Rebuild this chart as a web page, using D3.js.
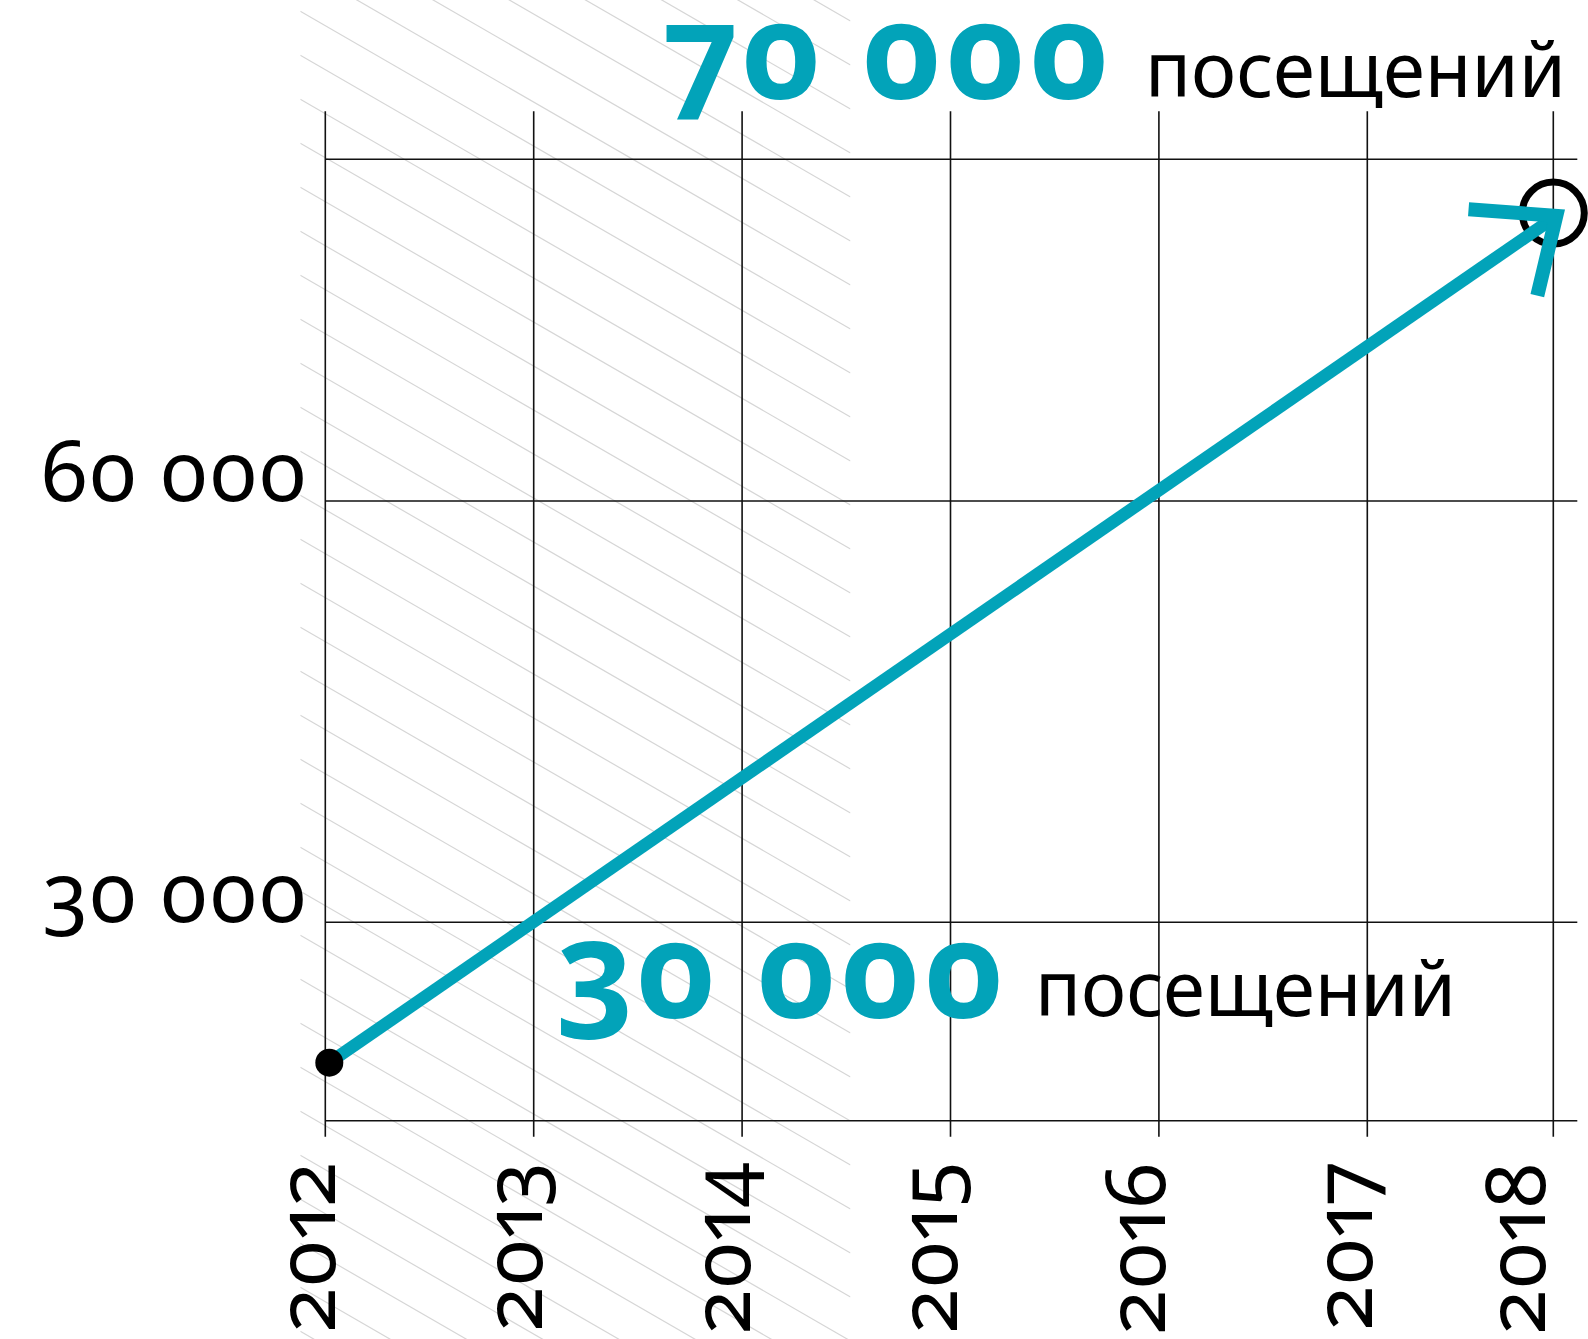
<!DOCTYPE html>
<html><head><meta charset="utf-8">
<script src="https://cdn.jsdelivr.net/npm/d3@7"></script>
<style>
html,body{margin:0;padding:0;background:#fff;}
svg{display:block;}
text{font-family:"Noto Sans",sans-serif;font-variant-numeric:oldstyle-nums proportional-nums;font-feature-settings:"onum" 1,"pnum" 1;}
</style></head><body>
<svg id="chart" width="1588" height="1339"></svg>
<script>
// ---- data ----
const years = [2012, 2013, 2014, 2015, 2016, 2017, 2018];
const yearLabels = ["2012", "2013", "2014", "2015", "2016", "2017", "2018"];
const yTickValues = [30000, 60000];
const yTickLabels = ["30 000", "60 000"];
const yFrameValues = [15870, 84330];
const visitYears = [2012, 2018];
const visitValues = [20000, 80300];
const targetYears = [2018];
const targetValues = [80500];
const annoNumbers = ["70 000", "30 000"];
const annoWords = ["посещений", "посещений"];
const hatchYears = [2011.88, 2014.52];

// ---- layout ----
const W = 1588, H = 1339;
const TEAL = "#02a3b9";
const svg = d3.select("#chart");

const x = d3.scaleLinear().domain([2012, 2017, 2018]).range([325.3, 1367.3, 1553.3]);
const xLabel = d3.scaleLinear().domain([2012, 2017, 2018]).range([335, 1372, 1545]);
const y = d3.scaleLinear().domain(yFrameValues).range([1120.7, 159.3]);

// hatch band
const hx0 = x(hatchYears[0]), hx1 = x(hatchYears[1]);
svg.append("defs").append("clipPath").attr("id", "hclip")
  .append("rect").attr("x", hx0).attr("y", 0).attr("width", hx1 - hx0).attr("height", H);
const slope = Math.tan(30 * Math.PI / 180);
const step = 44, phase = 11.3;
const ks = d3.range(-9, 33);
svg.append("g").attr("clip-path", "url(#hclip)")
  .selectAll("line").data(ks).join("line")
  .attr("x1", hx0).attr("y1", k => phase + k * step)
  .attr("x2", hx1).attr("y2", k => phase + k * step + (hx1 - hx0) * slope)
  .attr("stroke", "#d6d6d6").attr("stroke-width", 1.2);

// grid
const grid = svg.append("g").attr("stroke", "#111").attr("stroke-width", 1.6);
grid.selectAll("line.v").data(years).join("line").attr("class", "v")
  .attr("x1", d => x(d)).attr("x2", d => x(d))
  .attr("y1", y.range()[1] - 48).attr("y2", y.range()[0] + 16);
const hVals = [yFrameValues[0], ...yTickValues, yFrameValues[1]];
grid.selectAll("line.h").data(hVals).join("line").attr("class", "h")
  .attr("x1", x(2012)).attr("x2", x(2018) + 24)
  .attr("y1", d => y(d)).attr("y2", d => y(d));

// y labels
svg.append("g").selectAll("text").data(yTickValues).join("text")
  .attr("x", x(2012) - 18).attr("y", d => y(d))
  .attr("text-anchor", "end").attr("font-size", 84).attr("fill", "#000")
  .text((d, i) => yTickLabels[i]);

// year labels
svg.append("g").selectAll("text").data(years).join("text")
  .attr("transform", d => `translate(${xLabel(d)},1162) rotate(-90)`)
  .attr("text-anchor", "end").attr("font-size", 82).attr("fill", "#000")
  .text((d, i) => yearLabels[i]);

// target circle
svg.append("g").selectAll("circle").data(targetYears).join("circle")
  .attr("cx", d => x(d)).attr("cy", (d, i) => y(targetValues[i]))
  .attr("r", 31).attr("fill", "none").attr("stroke", "#000").attr("stroke-width", 7);

// arrow
const p0 = [x(visitYears[0]) + 4, y(visitValues[0])];
const p1 = [x(visitYears[1]) + 3, y(visitValues[1])];
svg.append("line").attr("x1", p0[0]).attr("y1", p0[1]).attr("x2", p1[0] - 7).attr("y2", p1[1] + 5)
  .attr("stroke", TEAL).attr("stroke-width", 12.5);
const back = Math.atan2(p0[1] - p1[1], p0[0] - p1[0]);
const a1 = back + 39 * Math.PI / 180, a2 = back - 42 * Math.PI / 180;
const head = d3.path();
head.moveTo(p1[0] + 88 * Math.cos(a1), p1[1] + 88 * Math.sin(a1));
head.lineTo(p1[0], p1[1]);
head.lineTo(p1[0] + 82 * Math.cos(a2), p1[1] + 82 * Math.sin(a2));
svg.append("path").attr("d", head.toString()).attr("fill", "none")
  .attr("stroke", TEAL).attr("stroke-width", 14).attr("stroke-linejoin", "miter");

// start dot
svg.append("circle").attr("cx", p0[0]).attr("cy", p0[1]).attr("r", 14).attr("fill", "#000");

// annotations
const ann = svg.append("g");
ann.append("text").attr("x", 662).attr("y", 99).attr("font-size", 134).attr("font-weight", 700)
  .attr("letter-spacing", 2).attr("fill", TEAL).text(annoNumbers[0]);
ann.append("text").attr("x", 1145).attr("y", 97).attr("font-size", 76).attr("fill", "#000").text(annoWords[0]);
ann.append("text").attr("x", 557).attr("y", 1018).attr("font-size", 134).attr("font-weight", 700)
  .attr("letter-spacing", 2).attr("fill", TEAL).text(annoNumbers[1]);
ann.append("text").attr("x", 1035).attr("y", 1016).attr("font-size", 76).attr("fill", "#000").text(annoWords[1]);
</script>
</body></html>
